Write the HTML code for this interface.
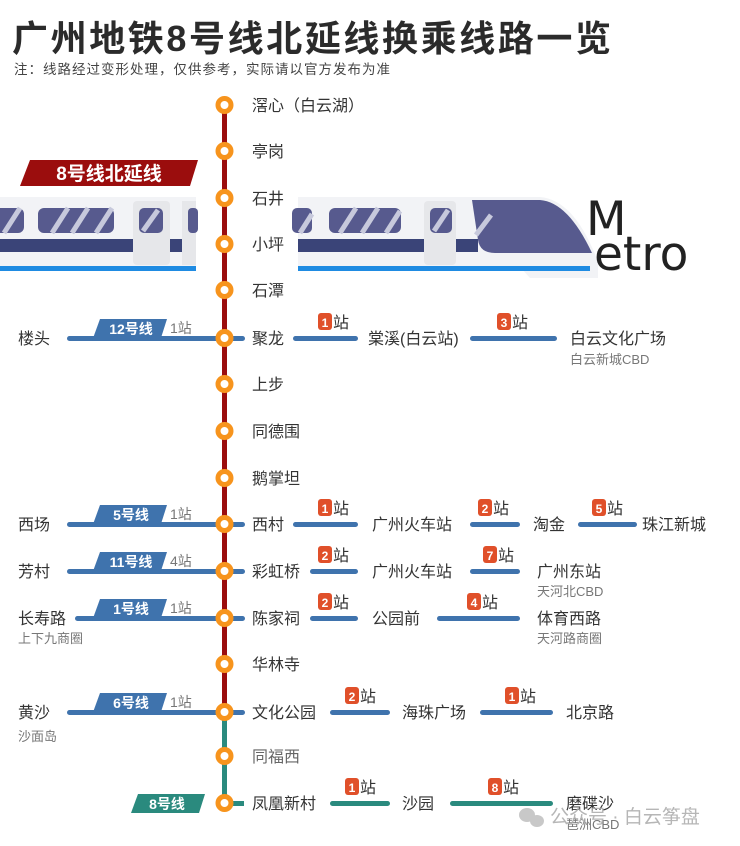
<!DOCTYPE html>
<html><head><meta charset="utf-8"><style>
html,body{margin:0;padding:0;background:#fff;}
svg{display:block;}
text{font-family:"Liberation Sans","Noto Sans CJK SC",sans-serif;}
.st{font-size:16px;fill:#333;}
.sub{font-size:13px;fill:#777;}
.tag{font-size:14px;fill:#fff;font-weight:bold;}
.cnt{font-size:14px;fill:#777;}
.bn{font-size:12px;fill:#fff;font-weight:bold;}
.bz{font-size:16px;fill:#333;}
</style></head><body>
<svg width="740" height="846" viewBox="0 0 740 846" xmlns="http://www.w3.org/2000/svg">
<rect width="740" height="846" fill="#fff"/>
<text x="12" y="51" style="font-size:36px;font-weight:bold;fill:#2b2b2b;letter-spacing:2.6px">广州地铁8号线北延线换乘线路一览</text>
<text x="14" y="74" style="font-size:13.5px;fill:#444;letter-spacing:1px">注：线路经过变形处理，仅供参考，实际请以官方发布为准</text>

<!-- train left -->
<g>
<rect x="0" y="197" width="196" height="70" fill="#f2f3f6"/>
<rect x="0" y="239" width="196" height="13" fill="#3a4478"/>
<rect x="133" y="201" width="37" height="64" rx="4" fill="#e6e7ea"/>
<rect x="182" y="201" width="14" height="64" fill="#e6e7ea"/>
<rect x="-6" y="208" width="30" height="25" rx="6" fill="#575a8e"/>
<rect x="38" y="208" width="76" height="25" rx="6" fill="#575a8e"/>
<rect x="139" y="208" width="24" height="25" rx="5" fill="#575a8e"/>
<rect x="188" y="208" width="10" height="25" rx="4" fill="#575a8e"/>
<g stroke="#c7c9dc" stroke-width="5">
<line x1="4" y1="233" x2="20" y2="208"/><line x1="52" y1="233" x2="68" y2="208"/><line x1="72" y1="233" x2="88" y2="208"/><line x1="96" y1="233" x2="112" y2="208"/><line x1="143" y1="231" x2="158" y2="210"/>
</g>
<rect x="0" y="266" width="196" height="5" fill="#1f8be2"/>
</g>
<!-- train right -->
<g>
<path d="M298 197 H540 Q575 200 598 262 L598 278 H530 L520 267 H298 Z" fill="#f2f3f6"/>
<rect x="298" y="239" width="180" height="13" fill="#3a4478"/>
<rect x="424" y="201" width="32" height="64" rx="4" fill="#e6e7ea"/>
<rect x="292" y="208" width="20" height="25" rx="5" fill="#575a8e"/>
<rect x="329" y="208" width="72" height="25" rx="6" fill="#575a8e"/>
<rect x="430" y="208" width="22" height="25" rx="5" fill="#575a8e"/>
<g stroke="#c7c9dc" stroke-width="5">
<line x1="300" y1="233" x2="312" y2="214"/><line x1="340" y1="233" x2="356" y2="208"/><line x1="362" y1="233" x2="378" y2="208"/><line x1="386" y1="233" x2="400" y2="211"/><line x1="434" y1="231" x2="448" y2="210"/>
</g>
<path d="M472 200 H540 Q568 202 592 253 H495 Q480 253 478 240 Z" fill="#575a8e"/>
<line x1="476" y1="235" x2="491" y2="215" stroke="#c7c9dc" stroke-width="5"/>
<rect x="298" y="266" width="292" height="5" fill="#1f8be2"/>
<text x="586" y="235" style="font-family:'DejaVu Sans',sans-serif;font-size:47px;fill:#222">M</text>
<text x="594" y="270" style="font-family:'DejaVu Sans',sans-serif;font-size:47px;fill:#222">etro</text>
</g>

<!-- banner -->
<polygon points="20,186 30,160 198,160 190,186" fill="#9b0d0d"/>
<text x="109" y="180" text-anchor="middle" style="font-size:19px;font-weight:bold;fill:#fff">8号线北延线</text>

<!-- main line -->
<rect x="222" y="100" width="5" height="612" fill="#9b0d0d"/>
<rect x="222" y="712" width="5" height="92" fill="#2a8a7e"/>

<!-- left transfer lines -->
<g fill="#3f73ad">
<rect x="67" y="336" width="178" height="5" rx="2.5"/>
<rect x="67" y="522" width="178" height="5" rx="2.5"/>
<rect x="67" y="569" width="178" height="5" rx="2.5"/>
<rect x="75" y="616" width="170" height="5" rx="2.5"/>
<rect x="67" y="710" width="178" height="5" rx="2.5"/>
<polygon points="92,341 100,319 167,319 160,341"/>
<polygon points="92,527 100,505 167,505 160,527"/>
<polygon points="92,574 100,552 167,552 160,574"/>
<polygon points="92,621 100,599 167,599 160,621"/>
<polygon points="92,715 100,693 167,693 160,715"/>
</g>
<polygon points="131,813 138,794 205,794 199,813" fill="#2a8a7e"/>
<rect x="222" y="801" width="22" height="5" fill="#2a8a7e"/>
<text x="131" y="334" class="tag" text-anchor="middle">12号线</text>
<text x="131" y="520" class="tag" text-anchor="middle">5号线</text>
<text x="131" y="567" class="tag" text-anchor="middle">11号线</text>
<text x="131" y="614" class="tag" text-anchor="middle">1号线</text>
<text x="131" y="708" class="tag" text-anchor="middle">6号线</text>
<text x="167" y="809" class="tag" text-anchor="middle">8号线</text>
<text x="170" y="333" class="cnt">1站</text>
<text x="170" y="519" class="cnt">1站</text>
<text x="170" y="566" class="cnt">4站</text>
<text x="170" y="613" class="cnt">1站</text>
<text x="170" y="707" class="cnt">1站</text>
<text x="18" y="344" class="st">楼头</text>
<text x="18" y="530" class="st">西场</text>
<text x="18" y="577" class="st">芳村</text>
<text x="18" y="624" class="st">长寿路</text>
<text x="18" y="643" class="sub">上下九商圈</text>
<text x="18" y="718" class="st">黄沙</text>
<text x="18" y="741" class="sub">沙面岛</text>

<!-- right lines -->
<g fill="#3f73ad">
<rect x="293" y="336" width="65" height="5" rx="2.5"/><rect x="470" y="336" width="87" height="5" rx="2.5"/>
<rect x="293" y="522" width="65" height="5" rx="2.5"/><rect x="470" y="522" width="50" height="5" rx="2.5"/><rect x="578" y="522" width="59" height="5" rx="2.5"/>
<rect x="310" y="569" width="48" height="5" rx="2.5"/><rect x="470" y="569" width="50" height="5" rx="2.5"/>
<rect x="310" y="616" width="48" height="5" rx="2.5"/><rect x="437" y="616" width="83" height="5" rx="2.5"/>
<rect x="330" y="710" width="60" height="5" rx="2.5"/><rect x="480" y="710" width="73" height="5" rx="2.5"/>
</g>
<g fill="#2a8a7e">
<rect x="330" y="801" width="60" height="5" rx="2.5"/><rect x="450" y="801" width="103" height="5" rx="2.5"/>
</g>

<!-- badges -->
<g fill="#e0502a">
<rect x="318" y="313" width="14" height="17" rx="3"/><rect x="497" y="313" width="14" height="17" rx="3"/>
<rect x="318" y="499" width="14" height="17" rx="3"/><rect x="478" y="499" width="14" height="17" rx="3"/><rect x="592" y="499" width="14" height="17" rx="3"/>
<rect x="318" y="546" width="14" height="17" rx="3"/><rect x="483" y="546" width="14" height="17" rx="3"/>
<rect x="318" y="593" width="14" height="17" rx="3"/><rect x="467" y="593" width="14" height="17" rx="3"/>
<rect x="345" y="687" width="14" height="17" rx="3"/><rect x="505" y="687" width="14" height="17" rx="3"/>
<rect x="345" y="778" width="14" height="17" rx="3"/><rect x="488" y="778" width="14" height="17" rx="3"/>
</g>
<g text-anchor="middle">
<text x="325" y="327" class="bn">1</text><text x="504" y="327" class="bn">3</text>
<text x="325" y="513" class="bn">1</text><text x="485" y="513" class="bn">2</text><text x="599" y="513" class="bn">5</text>
<text x="325" y="560" class="bn">2</text><text x="490" y="560" class="bn">7</text>
<text x="325" y="607" class="bn">2</text><text x="474" y="607" class="bn">4</text>
<text x="352" y="701" class="bn">2</text><text x="512" y="701" class="bn">1</text>
<text x="352" y="792" class="bn">1</text><text x="495" y="792" class="bn">8</text>
</g>
<g>
<text x="333" y="328" class="bz">站</text><text x="512" y="328" class="bz">站</text>
<text x="333" y="514" class="bz">站</text><text x="493" y="514" class="bz">站</text><text x="607" y="514" class="bz">站</text>
<text x="333" y="561" class="bz">站</text><text x="498" y="561" class="bz">站</text>
<text x="333" y="608" class="bz">站</text><text x="482" y="608" class="bz">站</text>
<text x="360" y="702" class="bz">站</text><text x="520" y="702" class="bz">站</text>
<text x="360" y="793" class="bz">站</text><text x="503" y="793" class="bz">站</text>
</g>

<!-- right station names -->
<text x="368" y="344" class="st">棠溪(白云站)</text>
<text x="570" y="344" class="st">白云文化广场</text>
<text x="570" y="364" class="sub">白云新城CBD</text>
<text x="372" y="530" class="st">广州火车站</text>
<text x="533" y="530" class="st">淘金</text>
<text x="642" y="530" class="st">珠江新城</text>
<text x="372" y="577" class="st">广州火车站</text>
<text x="537" y="577" class="st">广州东站</text>
<text x="537" y="596" class="sub">天河北CBD</text>
<text x="372" y="624" class="st">公园前</text>
<text x="537" y="624" class="st">体育西路</text>
<text x="537" y="643" class="sub">天河路商圈</text>
<text x="402" y="718" class="st">海珠广场</text>
<text x="566" y="718" class="st">北京路</text>
<text x="402" y="809" class="st">沙园</text>
<text x="566" y="809" class="st">磨碟沙</text>
<text x="566" y="829" class="sub">琶洲CBD</text>

<!-- watermark -->
<g fill="#bbb" opacity="0.8"><ellipse cx="527" cy="815" rx="8" ry="7"/><ellipse cx="537" cy="821" rx="7" ry="6"/></g>
<text x="550" y="823" style="font-size:19px;fill:#aaa;opacity:0.85">公众号 · 白云筝盘</text>

<!-- stations -->
<g fill="#fff" stroke="#f7941d" stroke-width="5">
<circle cx="224.5" cy="105" r="6.5"/><circle cx="224.5" cy="151" r="6.5"/><circle cx="224.5" cy="198" r="6.5"/><circle cx="224.5" cy="244" r="6.5"/><circle cx="224.5" cy="290" r="6.5"/><circle cx="224.5" cy="338" r="6.5"/><circle cx="224.5" cy="384" r="6.5"/><circle cx="224.5" cy="431" r="6.5"/><circle cx="224.5" cy="478" r="6.5"/><circle cx="224.5" cy="524" r="6.5"/><circle cx="224.5" cy="571" r="6.5"/><circle cx="224.5" cy="618" r="6.5"/><circle cx="224.5" cy="664" r="6.5"/><circle cx="224.5" cy="712" r="6.5"/><circle cx="224.5" cy="756" r="6.5"/><circle cx="224.5" cy="803" r="6.5"/>
</g>
<g>
<text x="252" y="111" class="st">滘心（白云湖）</text>
<text x="252" y="157" class="st">亭岗</text>
<text x="252" y="204" class="st">石井</text>
<text x="252" y="250" class="st">小坪</text>
<text x="252" y="296" class="st">石潭</text>
<text x="252" y="344" class="st">聚龙</text>
<text x="252" y="390" class="st">上步</text>
<text x="252" y="437" class="st">同德围</text>
<text x="252" y="484" class="st">鹅掌坦</text>
<text x="252" y="530" class="st">西村</text>
<text x="252" y="577" class="st">彩虹桥</text>
<text x="252" y="624" class="st">陈家祠</text>
<text x="252" y="670" class="st">华林寺</text>
<text x="252" y="718" class="st">文化公园</text>
<text x="252" y="762" class="st" style="fill:#666">同福西</text>
<text x="252" y="809" class="st">凤凰新村</text>
</g>
</svg>
</body></html>
